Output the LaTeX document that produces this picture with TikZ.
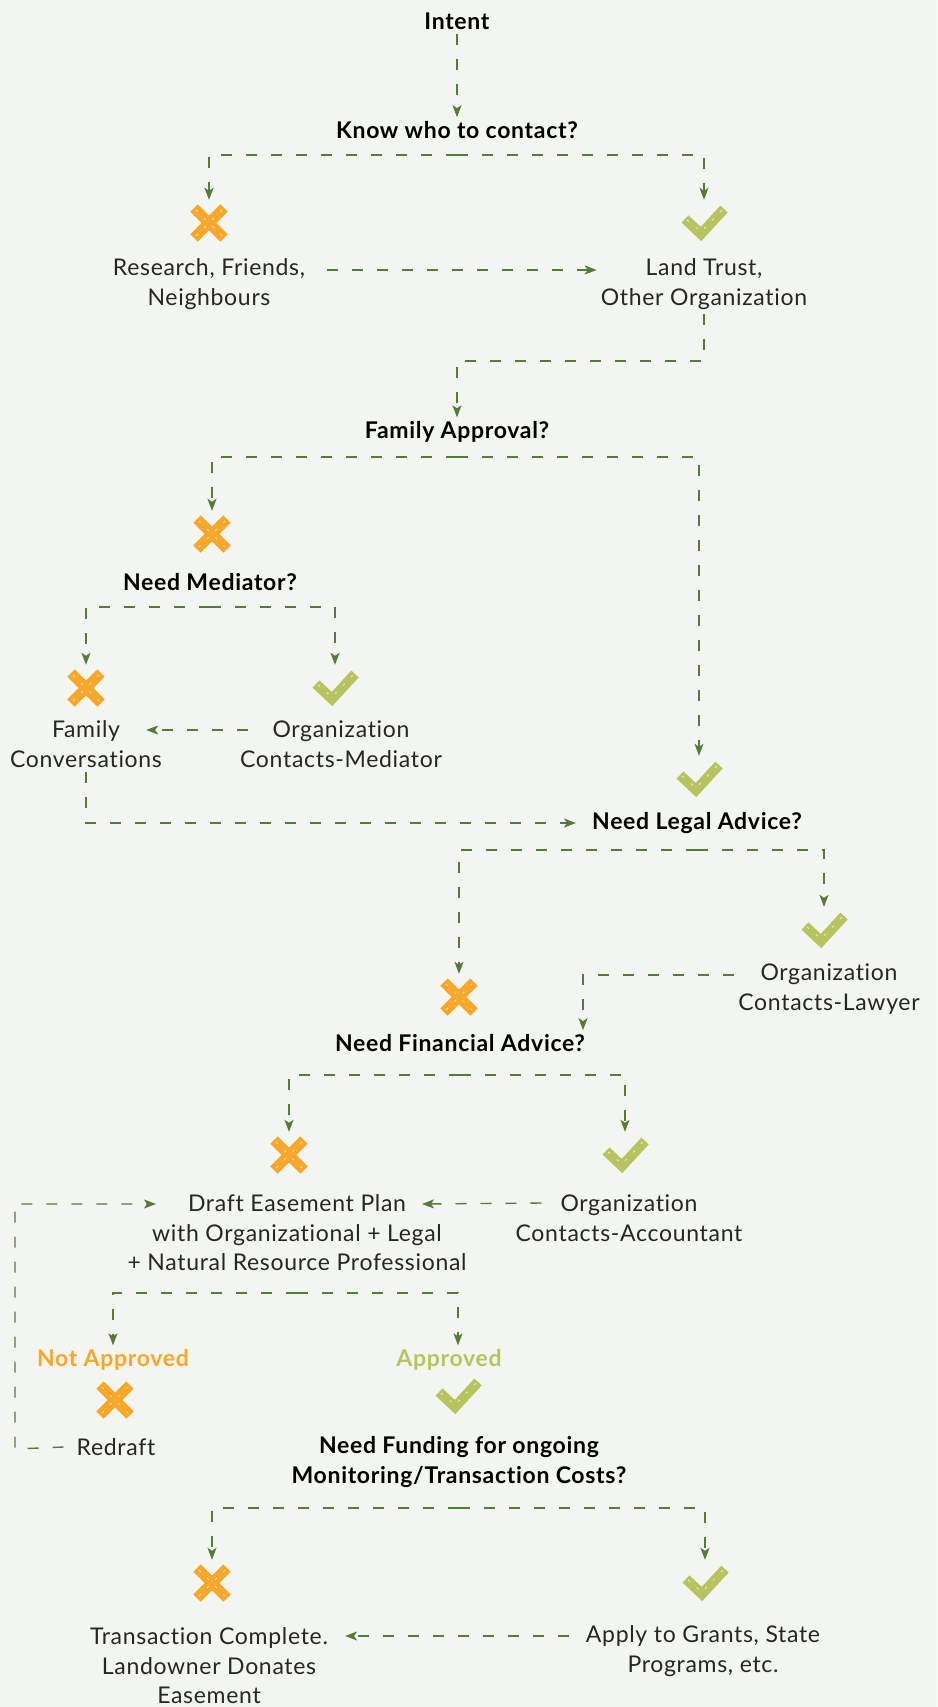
\documentclass[tikz,border=0pt]{standalone}
\usepackage{fontspec}
\setmainfont{Lato}[LetterSpace=3, Ligatures=NoCommon]
\usetikzlibrary{arrows.meta}
\definecolor{bgpaper}{HTML}{F3F5F0}
\definecolor{linegreen}{HTML}{557A3A}
\definecolor{noorange}{HTML}{F9A72B}
\definecolor{yesgreen}{HTML}{B7C35F}
\definecolor{inkgray}{HTML}{262626}
\newcommand{\FlowNo}[3]{%
  \node[markbox] (#1) at (#2,#3) {};
  \begin{scope}[shift={(#1.center)}]
    \draw[nostroke] (-15pt,-15pt) -- (15pt,15pt);
    \draw[nostroke] (-15pt,15pt) -- (15pt,-15pt);
    \draw[scribble] (-13pt,-13pt) -- (13pt,13pt);
    \draw[scribble] (-13pt,13pt) -- (13pt,-13pt);
  \end{scope}}
\newcommand{\FlowYes}[3]{%
  \node[markbox] (#1) at (#2,#3) {};
  \begin{scope}[shift={(#1.center)}]
    \draw[yesstroke] (-19pt,4pt) -- (-3pt,-11pt) -- (20pt,14pt);
    \draw[scribble] (-17pt,3pt) -- (-3pt,-9pt) -- (18pt,13pt);
  \end{scope}}

\begin{document}
\begin{tikzpicture}[x=1pt,y=-1pt,
    txtnode/.style={text=inkgray, align=center, inner sep=4pt,
      font=\fontsize{23}{29.5}\selectfont},
    headnode/.style={txtnode, text=black, font=\fontsize{23}{29.5}\selectfont\bfseries},
    flow/.style={draw=linegreen, line width=1.4pt, dash pattern=on 11pt off 14pt,
      -{Stealth[length=12pt,width=9pt,inset=3pt]}},
    markbox/.style={minimum size=46pt, inner sep=0pt},
    nostroke/.style={draw=noorange, line width=10.5pt},
    yesstroke/.style={draw=yesgreen, line width=10pt, line join=miter},
    scribble/.style={draw=white, line width=0.9pt, dash pattern=on 2.5pt off 9pt, opacity=0.7}]
  \fill[bgpaper] (0,0) rectangle (937,1707);
  \useasboundingbox (0,0) rectangle (937,1707);

  % nodes, top to bottom
  \node[headnode] (intent) at (457,21) {Intent};
  \node[headnode] (know) at (457,130) {Know who to contact?};
  \FlowNo{x1}{209}{223}
  \FlowYes{c1}{704}{223}
  \node[txtnode] (research) at (209,284) {Research, Friends,\\Neighbours};
  \node[txtnode] (trust) at (704,284) {Land Trust,\\Other Organization};
  \node[headnode] (family) at (457,432) {Family Approval?};
  \FlowNo{x2}{212}{534}
  \node[headnode] (mediator) at (210,582) {Need Mediator?};
  \FlowNo{x3}{86}{688}
  \FlowYes{c3}{335}{688}
  \node[txtnode] (famconv) at (86,744) {Family\\Conversations};
  \node[txtnode] (orgmed) at (341,744) {Organization\\Contacts-Mediator};
  \FlowYes{c2}{699}{779}
  \node[headnode] (legal) at (697,823) {Need Legal Advice?};
  \FlowYes{c4}{824}{930}
  \node[txtnode] (lawyer) at (829,989) {Organization\\Contacts-Lawyer};
  \FlowNo{x4}{459}{997}
  \node[headnode] (financial) at (460,1043) {Need Financial Advice?};
  \FlowNo{x5}{289}{1155}
  \FlowYes{c5}{625}{1155}
  \node[txtnode] (draft) at (297,1233) {Draft Easement Plan\\with Organizational + Legal\\+ Natural Resource Professional};
  \node[txtnode] (accountant) at (629,1218) {Organization\\Contacts-Accountant};
  \node[headnode, text=noorange] (notapp) at (113,1360) {Not Approved};
  \node[headnode, text=yesgreen] (approved) at (449,1360) {Approved};
  \FlowNo{x6}{115}{1400}
  \FlowYes{c6}{458}{1396}
  \node[txtnode] (redraft) at (116,1447) {Redraft};
  \node[headnode] (funding) at (459,1462) {Need Funding for ongoing\\Monitoring/Transaction Costs?};
  \FlowNo{x7}{212}{1583}
  \FlowYes{c7}{705}{1583}
  \node[txtnode] (complete) at (209,1666) {Transaction Complete.\\Landowner Donates\\Easement};
  \node[txtnode] (grants) at (703,1651) {Apply to Grants, State\\Programs, etc.};

  % branch points
  \coordinate (kb) at (457,155);
  \coordinate (tf) at (457,361);
  \coordinate (fb) at (457,457);
  \coordinate (mb) at (210,607);
  \coordinate (lb) at (697,850);
  \coordinate (fnb) at (460,1075);
  \coordinate (db) at (297,1293);
  \coordinate (loop) at (15,1449);
  \coordinate (fgb) at (459,1508);

  % connectors
  \draw[flow] (intent) -- (know);
  \draw[flow] (kb) -| (x1);
  \draw[flow] (kb) -| (c1);
  \draw[flow] ([shift={(18,-14)}]research.east) -- ([shift={(0,-14)}]trust.west);
  \draw[flow] (trust.south) |- (tf) -- (family);
  \draw[flow] (fb) -| (x2);
  \draw[flow] (fb) -| (c2);
  \draw[flow] (mb) -| (x3);
  \draw[flow] (mb) -| (c3);
  \draw[flow] ([shift={(12,-14)}]orgmed.west) -- ([shift={(-20,-14)}]famconv.east);
  \draw[flow] (famconv.south) |- ([xshift=-12pt]legal.west);
  \draw[flow] (lb) -| (x4);
  \draw[flow] (lb) -| (c4);
  \draw[flow] ([shift={(0,-14)}]lawyer.west) -| ([xshift=123pt]financial.north);
  \draw[flow] (fnb) -| (x5);
  \draw[flow] (fnb) -| (c5);
  \draw[flow] ([shift={(30,-15)}]accountant.west) -- ([shift={(125,-29)}]draft.center);
  \draw[flow] ([xshift=-9pt]redraft.west) -- (loop) |- ([shift={(-141,-29)}]draft.center);
  \draw[flow] (db) -| (notapp.north);
  \draw[flow] (db) -| ([xshift=9pt]approved.north);
  \draw[flow] (fgb) -| (x7);
  \draw[flow] (fgb) -| (c7);
  \draw[flow] ([shift={(-13,-15)}]grants.west) -- ([shift={(13,-30)}]complete.east);
\end{tikzpicture}
\end{document}
